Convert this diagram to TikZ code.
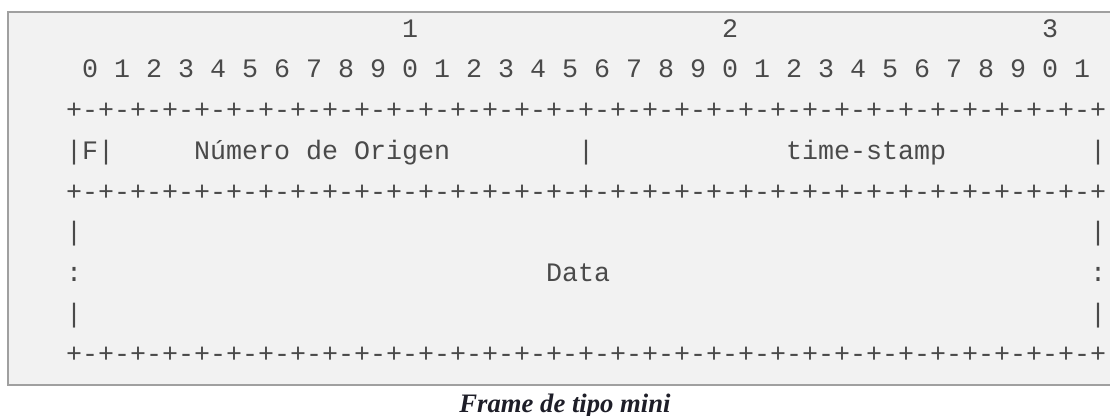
\documentclass[tikz,border=0pt]{standalone}
\usepackage{fontspec}
\usepackage{xcolor}
\newfontfamily\asciifont{Liberation Mono}
\newfontfamily\capfont{Liberation Serif}
\definecolor{boxfill}{HTML}{F2F2F2}
\definecolor{boxline}{HTML}{A0A0A0}
\definecolor{asciigray}{HTML}{4A4A4A}
\definecolor{capdark}{HTML}{1E1E28}
\newcommand\bitrule{+-+-+-+-+-+-+-+-+-+-+-+-+-+-+-+-+-+-+-+-+-+-+-+-+-+-+-+-+-+-+-+-+}

\begin{document}
\begin{tikzpicture}[
  asc/.style={anchor=base west, inner sep=0pt, outer sep=0pt, text=asciigray,
              font=\asciifont\fontsize{20}{24}\selectfont},
  captext/.style={anchor=base, inner sep=0pt, text=capdark,
              font=\capfont\bfseries\itshape\fontsize{20}{24}\selectfont}
]
  \useasboundingbox (0,0) rectangle (832.5pt,-312pt);
  % recuadro gris
  \draw[draw=boxline, line width=1.5pt, fill=boxfill] (6pt,-9pt) rectangle (845pt,-288.75pt);
  % texto ASCII (columna, fila)
  \begin{scope}[shift={(49.5pt,-27.975pt)}, x=12pt, y=-30.525pt]
    % regla de bits
    \node[asc] (tens1) at (21,0) {1};
    \node[asc] (tens2) at (41,0) {2};
    \node[asc] (tens3) at (61,0) {3};
    \node[asc] (bits)  at (1,1)  {0~1~2~3~4~5~6~7~8~9~0~1~2~3~4~5~6~7~8~9~0~1~2~3~4~5~6~7~8~9~0~1};
    \node[asc] (rule0) at (0,2)  {\bitrule};
    % cabecera
    \node[asc] (flag)  at (0,3)  {|F|};
    \node[asc] (orig)  at (8,3)  {Número de Origen};
    \node[asc] (mbar)  at (32,3) {|};
    \node[asc] (stamp) at (45,3) {time-stamp};
    \node[asc] (rbar0) at (64,3) {|};
    \node[asc] (rule1) at (0,4)  {\bitrule};
    % datos
    \node[asc] (lbar1) at (0,5)  {|};
    \node[asc] (rbar1) at (64,5) {|};
    \node[asc] (lcol)  at (0,6)  {:};
    \node[asc] (data)  at (30,6) {Data};
    \node[asc] (rcol)  at (64,6) {:};
    \node[asc] (lbar2) at (0,7)  {|};
    \node[asc] (rbar2) at (64,7) {|};
    \node[asc] (rule2) at (0,8)  {\bitrule};
  \end{scope}
  % pie
  \node[captext] (caption) at (423.75pt,-309pt) {Frame de tipo mini};
\end{tikzpicture}
\end{document}
